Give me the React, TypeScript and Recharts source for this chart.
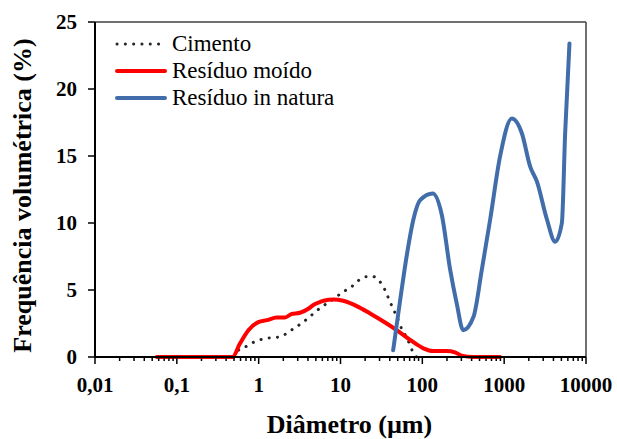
import { LineChart, Line, XAxis, YAxis, ReferenceLine, Label } from "recharts";

// diâmetro (µm) e frequência volumétrica (%) de cada material
const cimentoD = [0.5, 0.565, 0.71, 0.9, 1.14, 1.45, 1.82, 2.3, 2.8, 3.5, 4.2, 5.0, 6.1, 8.1, 10.7, 13.7, 16.5, 20.9, 25, 30.5, 35, 38.5, 44, 48.8, 56, 65, 78, 85];
const cimentoV = [0, 0.5, 0.8, 1.15, 1.35, 1.45, 1.5, 1.85, 2.2, 2.6, 3.0, 3.4, 3.8, 4.3, 4.85, 5.25, 5.7, 6.0, 6.0, 5.6, 5.0, 4.4, 3.6, 3.0, 2.1, 1.4, 0.3, 0];

const moidoD = [0.057, 0.48, 0.59, 0.75, 0.99, 1.26, 1.66, 2.1, 2.5, 3.2, 4.05, 4.7, 5.6, 6.2, 8.2, 10.8, 15.8, 23, 33.5, 48.8, 71, 103, 136, 198, 251, 302, 420, 890];
const moidoV = [0, 0, 1.0, 2.0, 2.6, 2.75, 2.95, 2.95, 3.2, 3.3, 3.6, 3.9, 4.1, 4.2, 4.3, 4.2, 3.8, 3.25, 2.65, 2.0, 1.27, 0.65, 0.45, 0.45, 0.35, 0.1, 0, 0];

const naturaD = [44, 53.6, 65, 78, 94, 134, 173, 219, 263, 316, 422, 533, 676, 890, 1240, 1645, 2080, 2510, 3320, 4200, 5070, 5560, 6280];
const naturaV = [0.5, 4.25, 7.7, 10.3, 11.7, 12.2, 10.6, 6.5, 4.0, 2.0, 3.0, 6.5, 10.3, 14.95, 17.8, 16.7, 14.2, 13.1, 10.3, 8.6, 10.0, 16.7, 23.4];

const yTicks = [0, 5, 10, 15, 20, 25];
const xMajor = [0.01, 0.1, 1, 10, 100, 1000, 10000];
const xLabels = ["0,01", "0,1", "1", "10", "100", "1000", "10000"];

const series = [
  { name: "Cimento", d: cimentoD, v: cimentoV, color: "#262626", dotted: true },
  { name: "Resíduo moído", d: moidoD, v: moidoV, color: "#FF0000", dotted: false },
  { name: "Resíduo in natura", d: naturaD, v: naturaV, color: "#416EAA", dotted: false },
];

const toRows = (d: number[], v: number[]) => d.map((x, i) => ({ d: x, v: v[i] }));

const xTicks: number[] = [];
xMajor.forEach((m, i) => {
  if (i === xMajor.length - 1) {
    xTicks.push(m);
    return;
  }
  for (let k = 1; k <= 9; k++) xTicks.push(k * m);
});

const font = "'Liberation Serif', 'Times New Roman', serif";

const XTick = (props: any) => {
  const { x, y, payload } = props;
  const idx = xMajor.findIndex((m) => Math.abs(m - payload.value) / m < 1e-6);
  const major = idx >= 0;
  return (
    <g>
      <line x1={x} x2={x} y1={y} y2={y + (major ? 7 : 4)} stroke="#000" strokeWidth={1.5} />
      {major && (
        <text x={x} y={y + 35} textAnchor="middle" fontFamily={font} fontWeight="bold" fontSize={21} fill="#000">
          {xLabels[idx]}
        </text>
      )}
    </g>
  );
};

const LegendBox = () => (
  <div
    style={{
      position: "absolute",
      left: 115,
      top: 30,
      fontFamily: font,
      fontSize: 23,
      color: "#000",
      lineHeight: "27px",
    }}
  >
    {series.map((s) => (
      <div key={s.name} style={{ display: "flex", alignItems: "center", height: 27 }}>
        <svg width={52} height={10} style={{ marginRight: 5 }}>
          <line
            x1={2}
            x2={50}
            y1={5}
            y2={5}
            stroke={s.color}
            strokeWidth={s.dotted ? 3 : 4}
            strokeLinecap="round"
            strokeDasharray={s.dotted ? "0.1 8.2" : undefined}
          />
        </svg>
        <span>{s.name}</span>
      </div>
    ))}
  </div>
);

export default function App() {
  return (
    <div style={{ position: "fixed", left: 0, top: 0, width: 617, height: 439, background: "#fff" }}>
      <LineChart width={617} height={439} margin={{ top: 22, right: 31, left: 0, bottom: 0 }}>
        <XAxis
          dataKey="d"
          type="number"
          scale="log"
          domain={[0.01, 10000]}
          allowDataOverflow
          ticks={xTicks}
          interval={0}
          height={82}
          tickSize={0}
          tickMargin={0}
          tickLine={false}
          tick={<XTick />}
          axisLine={{ stroke: "#000", strokeWidth: 2 }}
        >
          <Label
            value="Diâmetro (µm)"
            position="insideBottom"
            offset={6}
            dx={9}
            style={{ fontFamily: font, fontWeight: "bold", fontSize: 26, fill: "#000" }}
          />
        </XAxis>
        <YAxis
          type="number"
          domain={[0, 25]}
          ticks={yTicks}
          interval={0}
          width={95}
          tickSize={7}
          tickMargin={11}
          tickLine={{ stroke: "#000", strokeWidth: 1.5 }}
          axisLine={{ stroke: "#000", strokeWidth: 2 }}
          tick={{ fontFamily: font, fontWeight: "bold", fontSize: 21, fill: "#000" }}
        >
          <Label
            value="Frequência volumétrica (%)"
            angle={-90}
            position="insideLeft"
            offset={22}
            dy={6}
            style={{ fontFamily: font, fontWeight: "bold", fontSize: 26, fill: "#000", textAnchor: "middle" }}
          />
        </YAxis>
        <ReferenceLine y={25} stroke="#404040" strokeWidth={1.5} />
        <ReferenceLine x={10000} stroke="#404040" strokeWidth={1.5} />
        {series.map((s) => (
          <Line
            key={s.name}
            name={s.name}
            data={toRows(s.d, s.v)}
            dataKey="v"
            type="monotone"
            stroke={s.color}
            strokeWidth={s.dotted ? 3 : 4}
            strokeLinecap="round"
            strokeDasharray={s.dotted ? "0.1 8.2" : undefined}
            dot={false}
            activeDot={false}
            isAnimationActive={false}
          />
        ))}
      </LineChart>
      <LegendBox />
    </div>
  );
}
